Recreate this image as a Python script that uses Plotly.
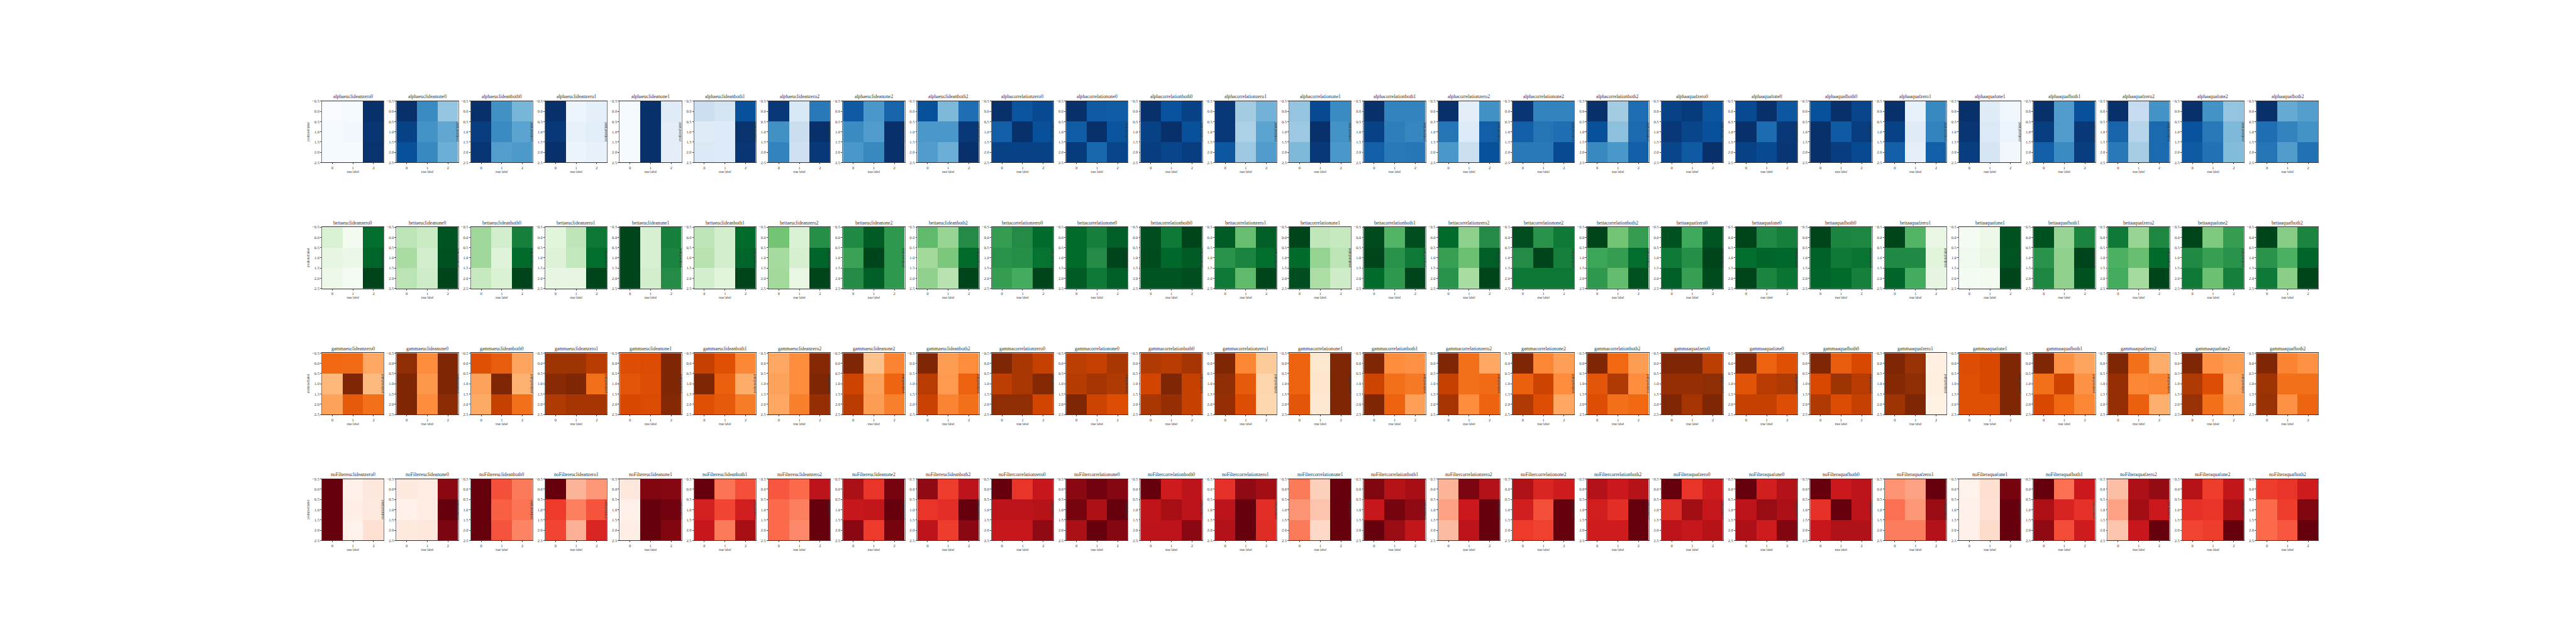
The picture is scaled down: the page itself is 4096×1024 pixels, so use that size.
import plotly.graph_objects as go

GROUPS = ["alpha", "betta", "gamma", "noFilter"]
METRICS = ["euclidean", "correlation", "aquaf"]
KINDS = ["zero", "one", "both"]
FOLDS = ["0", "1", "2"]
X_TICKS = [0, 1, 2]
Y_TICKS = [-0.5, 0.0, 0.5, 1.0, 1.5, 2.0, 2.5]
Y_TICK_LABELS = ["\u22120.5", "0.0", "0.5", "1.0", "1.5", "2.0", "2.5"]

BLUES = ["#f7fbff", "#deebf7", "#c6dbef", "#9ecae1", "#6baed6", "#4292c6", "#2171b5", "#08519c", "#08306b"]
GREENS = ["#f7fcf5", "#e5f5e0", "#c7e9c0", "#a1d99b", "#74c476", "#41ab5d", "#238b45", "#006d2c", "#00441b"]
ORANGES = ["#fff5eb", "#fee6ce", "#fdd0a2", "#fdae6b", "#fd8d3c", "#f16913", "#d94801", "#a63603", "#7f2704"]
REDS = ["#fff5f0", "#fee0d2", "#fcbba1", "#fc9272", "#fb6a4a", "#ef3b2c", "#cb181d", "#a50f15", "#67000d"]

ALPHA = [
    [[0,.01,1],[.01,.03,.98],[.01,.01,.99]],
    [[1,.65,.40],[.93,.62,.53],[.88,.66,.50]],
    [[1,.63,.47],[.95,.65,.55],[.98,.57,.59]],
    [[1,.05,.09],[.97,.08,.11],[1,.06,.08]],
    [[.01,1,.12],[.01,1,.10],[.01,1,.10]],
    [[.22,.18,.88],[.12,.13,.99],[.14,.13,.98]],
    [[.97,.15,.72],[.63,.23,1],[.68,.21,.97]],
    [[.84,.60,.80],[.65,.58,1],[.60,.66,1]],
    [[.88,.45,.76],[.60,.60,.97],[.58,.50,1]],
    [[1,.86,.90],[.82,1,.88],[.93,.93,.93]],
    [[1,.84,.83],[.83,1,.86],[.96,.79,.92]],
    [[1,.87,.93],[.93,1,.88],[.95,.92,.95]],
    [[.97,.36,.48],[.97,.33,.55],[.85,.38,.58]],
    [[.40,.90,.65],[.38,1,.62],[.45,.97,.60]],
    [[1,.68,.68],[.93,.70,.67],[.82,.72,.73]],
    [[1,.10,.63],[.74,.13,.82],[.60,.22,.88]],
    [[.98,.68,.68],[.82,.74,.76],[.72,.72,.90]],
    [[1,.36,.76],[.88,.42,.78],[.66,.60,.82]],
    [[.93,.96,.86],[.97,.92,.88],[.92,.84,1]],
    [[.90,1,.85],[1,.77,.97],[.93,.90,.98]],
    [[.88,1,.92],[1,.84,.95],[1,.95,.90]],
    [[1,.08,.66],[.93,.12,.68],[.82,.09,.82]],
    [[1,.12,.04],[.98,.14,.05],[.95,.17,.03]],
    [[1,.58,.88],[.95,.58,.97],[.82,.65,.95]],
    [[1,.25,.62],[.80,.30,.78],[.72,.35,.78]],
    [[1,.62,.40],[.87,.72,.45],[.84,.75,.44]],
    [[1,.52,.57],[.76,.68,.62],[.74,.58,.75]],
]
BETTA = [
    [[.17,.03,.87],[.11,.08,.90],[.07,.02,1]],
    [[.28,.24,.95],[.35,.20,.96],[.29,.22,1]],
    [[.38,.20,.80],[.38,.15,.88],[.25,.17,1]],
    [[.14,.28,.83],[.16,.26,.87],[.11,.11,1]],
    [[1,.18,.80],[1,.18,.78],[1,.20,.75]],
    [[.28,.20,.88],[.30,.20,.90],[.20,.14,1]],
    [[.50,.17,.74],[.36,.19,.90],[.37,.10,1]],
    [[.76,.93,.70],[.66,1,.70],[.75,.92,.70]],
    [[.55,.40,.75],[.37,.48,.88],[.42,.30,1]],
    [[.68,.75,.88],[.72,.74,.85],[.68,.62,1]],
    [[.88,.80,.92],[.88,.75,1],[.93,.82,.92]],
    [[.97,.82,1],[.98,.89,.93],[.95,.95,.97]],
    [[.93,.53,.92],[.72,.78,.87],[.82,.55,1]],
    [[1,.27,.25],[.88,.41,.28],[.97,.34,.22]],
    [[.98,.58,.97],[1,.72,.82],[.88,.70,1]],
    [[.88,.43,.75],[.67,.52,.92],[.72,.35,1]],
    [[.97,.72,.82],[.75,1,.80],[.83,.83,.83]],
    [[1,.50,.68],[.65,.68,.87],[.70,.54,.96]],
    [[.96,.63,.95],[.82,.74,1],[.92,.67,.98]],
    [[1,.76,.80],[.87,.90,.89],[1,.78,.84]],
    [[1,.78,.77],[.91,.82,.84],[.90,.88,.80]],
    [[1,.58,.10],[.76,.76,.14],[.90,.62,.12]],
    [[.02,.07,.96],[.05,.10,.95],[.02,.03,1]],
    [[.96,.40,.78],[.72,.42,1],[.77,.42,.96]],
    [[.82,.40,.77],[.60,.53,.88],[.62,.36,1]],
    [[1,.47,.68],[.76,.67,.72],[.82,.52,.80]],
    [[1,.45,.78],[.72,.60,.90],[.82,.44,1]],
]
GAMMA = [
    [[.63,.62,.40],[.34,1,.33],[.42,.68,.60]],
    [[.95,.50,1],[1,.46,1],[1,.50,.96]],
    [[.72,.67,.41],[.42,1,.36],[.39,.80,.60]],
    [[.90,.90,.83],[.97,1,.60],[.85,.88,.88]],
    [[.73,.74,1],[.70,.73,1],[.75,.74,.98]],
    [[.80,.72,.52],[1,.66,.38],[.72,.68,.56]],
    [[.40,.50,.98],[.42,.50,1],[.40,.55,.93]],
    [[1,.30,.53],[.78,.42,.64],[.83,.44,.55]],
    [[1,.44,.50],[.83,.45,.65],[.79,.53,.60]],
    [[1,.87,.80],[.82,.87,.98],[.95,.95,.77]],
    [[.82,.80,.87],[.84,.88,.85],[1,.78,.73]],
    [[.85,.83,.88],[.77,1,.80],[.87,.93,.80]],
    [[1,.52,.27],[.95,.68,.22],[.93,.73,.21]],
    [[.65,.12,1],[.65,.13,1],[.70,.11,1]],
    [[1,.50,.48],[.78,.60,.57],[1,.65,.43]],
    [[1,.60,.40],[.80,.60,.62],[.88,.50,.65]],
    [[1,.52,.43],[.66,.78,.50],[.85,.73,.40]],
    [[1,.63,.44],[.70,.85,.50],[.73,.60,.63]],
    [[1,1,.82],[.93,.93,.95],[1,.88,1]],
    [[1,.65,.72],[.71,.83,.85],[.80,.80,.73]],
    [[1,.67,.75],[.75,.90,.83],[.85,.74,.80]],
    [[1,.92,.04],[.98,.95,.05],[.90,1,.03]],
    [[.73,.75,1],[.72,.75,1],[.72,.72,1]],
    [[1,.48,.41],[.60,.78,.48],[.75,.63,.52]],
    [[1,.60,.38],[.93,.52,.53],[.93,.66,.37]],
    [[1,.48,.44],[.85,.73,.40],[.92,.60,.44]],
    [[1,.53,.48],[.90,.60,.60],[.92,.48,.64]],
]
NOFILTER = [
    [[1,.03,.08],[1,.04,.07],[1,.02,.12]],
    [[.07,.06,.93],[.03,.05,1],[.07,.08,.96]],
    [[1,.57,.45],[1,.53,.47],[1,.56,.42]],
    [[1,.27,.36],[.63,.43,.56],[.60,.28,.70]],
    [[.08,.95,.94],[.03,1,.98],[.04,1,.95]],
    [[1,.47,.57],[.72,.60,.73],[.76,.45,.87]],
    [[.55,.50,.80],[.50,.43,1],[.50,.40,1]],
    [[.86,.65,.97],[.77,.78,1],[.93,.63,.97]],
    [[.92,.62,.80],[.65,.67,1],[.80,.62,.93]],
    [[1,.65,.76],[.80,.80,.82],[.77,.76,.92]],
    [[.93,.98,.94],[.97,.85,1],[.86,1,.94]],
    [[1,.74,.80],[.79,.87,.80],[.80,.80,.93]],
    [[.66,.92,.88],[.80,1,.67],[.83,1,.68]],
    [[.45,.18,1],[.37,.22,1],[.45,.15,1]],
    [[.95,.82,.87],[.77,.97,.92],[1,.90,.78]],
    [[.27,.96,.83],[.33,.75,1],[.25,.80,1]],
    [[.84,.70,.74],[.73,.57,1],[.63,.61,1]],
    [[.83,.75,.82],[.73,.67,1],[.74,.74,1]],
    [[1,.65,.74],[.68,.88,.77],[.80,.77,.82]],
    [[1,.73,.83],[.80,.90,.85],[.85,.74,.95]],
    [[1,.75,.80],[.66,1,.80],[.76,.84,.84]],
    [[.37,.33,1],[.48,.36,.90],[.44,.44,.83]],
    [[.02,.13,.97],[.03,.12,1],[.03,.14,1]],
    [[1,.48,.75],[.85,.71,.66],[.92,.58,.74]],
    [[.24,.85,.91],[.33,.88,.75],[.22,.76,1]],
    [[.82,.62,.78],[.66,.65,.86],[.60,.62,1]],
    [[.62,.65,.74],[.50,.62,.95],[.50,.55,1]],
]
ROW_DATA = [ALPHA, BETTA, GAMMA, NOFILTER]
ROW_COLORS = [BLUES, GREENS, ORANGES, REDS]

REF_W, REF_H = 6912.0, 1728.0
FONT = "Liberation Serif"
TEXT = "#333333"
TITLE_SIZE, TICK_SIZE, LABEL_SIZE = 7.7, 6.4, 5.2

titles = [m + k + f for m in METRICS for f in FOLDS for k in KINDS]


def colorscale(cols):
    return [[i / (len(cols) - 1), c] for i, c in enumerate(cols)]


fig = go.Figure()
layout = dict(
    width=4096, height=1024, autosize=False, paper_bgcolor="white", plot_bgcolor="white",
    margin=dict(l=0, r=0, t=0, b=0), showlegend=False,
)
annotations = []
n = 0
for r, group in enumerate(GROUPS):
    top = 266.3 + 340.33 * r
    for c, suffix in enumerate(titles):
        n += 1
        left = 864.0 + 199.65 * c
        xn, yn = f"xaxis{n}", f"yaxis{n}"
        fig.add_trace(go.Heatmap(
            z=ROW_DATA[r][c], x=X_TICKS, y=X_TICKS, zmin=0, zmax=1, xgap=0, ygap=0,
            colorscale=colorscale(ROW_COLORS[r]), showscale=False, hoverongaps=False,
            xaxis=f"x{n}", yaxis=f"y{n}",
        ))
        common = dict(
            showgrid=False, zeroline=False, showline=True, mirror=True,
            ticks="outside", ticklen=2.1, tickwidth=0.5, tickcolor="#444444",
            tickfont=dict(family=FONT, size=TICK_SIZE, color=TEXT),
        )
        layout[xn] = dict(
            common, domain=[left / REF_W, (left + 166) / REF_W], range=[-0.5, 2.5], anchor=f"y{n}",
            linecolor="#333333", linewidth=0.5,
            tickmode="array", tickvals=X_TICKS, ticktext=[str(v) for v in X_TICKS], tickangle=0,
            title=dict(text="true label", font=dict(family=FONT, size=LABEL_SIZE, color=TEXT), standoff=2),
        )
        layout[yn] = dict(
            common, domain=[1 - (top + 166) / REF_H, 1 - top / REF_H], range=[2.5, -0.5], anchor=f"x{n}",
            linecolor="#777777", linewidth=0.5,
            tickmode="array", tickvals=Y_TICKS, ticktext=Y_TICK_LABELS,
            title=dict(text="predicted label", font=dict(family=FONT, size=LABEL_SIZE, color=TEXT), standoff=3),
        )
        annotations.append(dict(
            text=group + suffix, xref="paper", yref="paper",
            x=(left + 83) / REF_W, y=1 - (top - 4) / REF_H, xanchor="center", yanchor="bottom",
            showarrow=False, font=dict(family=FONT, size=TITLE_SIZE, color=TEXT),
            borderpad=0, borderwidth=0,
        ))

layout["annotations"] = annotations
fig.update_layout(**layout)
fig.write_html(
    "out.html",
    config={"displayModeBar": False},
    post_script="document.body.style.margin='0';document.body.style.overflow='hidden';",
)
